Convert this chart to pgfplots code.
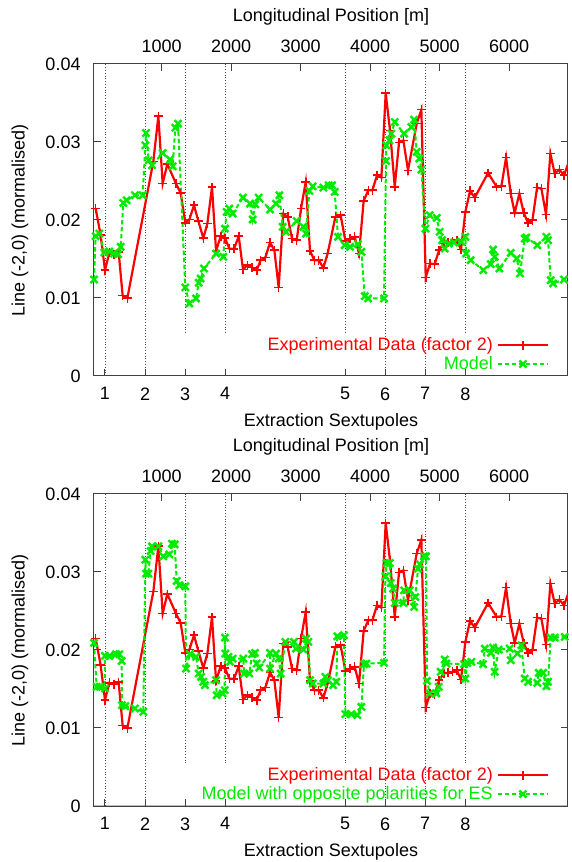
\documentclass[border=0pt]{standalone}
\usepackage{fontspec}
\setmainfont{Liberation Sans}
\usepackage{pgfplots}
\pgfplotsset{compat=1.18}
\usepackage{pgfplotstable}

\definecolor{gpred}{RGB}{255,0,0}
\definecolor{gpgreen}{RGB}{0,235,0}
\newcommand{\fs}{\fontsize{9}{10}\selectfont}

% measured data, x in metres along the ring
\pgfplotstableread{
x y
50 0.02146
122 0.01805
184 0.01357
247 0.01579
314 0.01562
381 0.01587
438 0.01032
506 0.00998
880 0.02752
952 0.03333
1014 0.02467
1081 0.02718
1206 0.02467
1273 0.02347
1340 0.01963
1398 0.02006
1465 0.02189
1527 0.01988
1599 0.01767
1657 0.01954
1724 0.02424
1782 0.01604
1849 0.01792
1911 0.01767
1973 0.01634
2041 0.01630
2108 0.01792
2170 0.01365
2232 0.01421
2299 0.01391
2367 0.01357
2424 0.01485
2491 0.01519
2559 0.01711
2621 0.01613
2683 0.01135
2750 0.02082
2813 0.02040
2875 0.01762
2942 0.01741
3005 0.02146
3072 0.02488
3134 0.01604
3196 0.01485
3259 0.01485
3326 0.01387
3388 0.01570
3499 0.02040
3575 0.02061
3643 0.01732
3710 0.01758
3777 0.01784
3839 0.01570
3906 0.02245
3973 0.02381
4031 0.02381
4098 0.02573
4161 0.02543
4223 0.03627
4285 0.03149
4353 0.02424
4415 0.02996
4477 0.03021
4544 0.02637
4669 0.03235
4736 0.03414
4799 0.01263
4861 0.01442
4928 0.01434
4991 0.01613
5058 0.01698
5120 0.01707
5182 0.01720
5245 0.01741
5307 0.01621
5369 0.02104
5437 0.02373
5504 0.02287
5696 0.02603
5820 0.02424
5887 0.02432
5955 0.02799
6022 0.02338
6079 0.02091
6146 0.02338
6209 0.02091
6271 0.01963
6334 0.01997
6401 0.02415
6463 0.02402
6530 0.02070
6592 0.02851
6655 0.02595
6722 0.02646
6789 0.02573
6852 0.02731
}\expdata

% model
\pgfplotstableread{
x y
26 0.01237
50 0.01792
103 0.01826
175 0.01583
247 0.01596
314 0.01570
372 0.01562
410 0.01656
448 0.02219
496 0.02253
616 0.02317
726 0.02317
765 0.02957
774 0.03115
813 0.02765
861 0.02701
1014 0.02859
1120 0.02774
1158 0.02688
1196 0.03184
1235 0.03235
1340 0.01135
1398 0.00930
1494 0.00994
1532 0.01195
1561 0.01250
1609 0.01378
1782 0.01570
1887 0.01528
1911 0.01890
1935 0.02104
1973 0.02146
2021 0.02082
2170 0.02287
2271 0.02210
2309 0.02006
2347 0.02202
2395 0.02287
2559 0.02134
2645 0.02210
2693 0.02317
2741 0.01912
2789 0.01848
2942 0.01988
3038 0.01912
3077 0.01826
3125 0.02373
3173 0.02432
3326 0.02415
3403 0.02445
3451 0.02445
3489 0.02360
3537 0.01784
3633 0.01677
3710 0.01656
3825 0.01690
3873 0.01592
3921 0.01024
3969 0.00994
4199 0.00994
4228 0.02757
4233 0.02957
4276 0.03021
4305 0.03107
4353 0.03256
4487 0.03107
4592 0.03192
4631 0.03286
4669 0.02872
4707 0.02787
4736 0.02646
4794 0.01890
4856 0.02061
4957 0.02027
5000 0.01848
5034 0.01741
5072 0.01634
5130 0.01698
5206 0.01711
5312 0.01720
5369 0.01784
5379 0.01570
5446 0.01485
5628 0.01357
5734 0.01434
5768 0.01621
5791 0.01528
5859 0.01378
6022 0.01579
6108 0.01506
6156 0.01314
6223 0.01762
6247 0.01775
6405 0.01677
6535 0.01784
6559 0.01741
6597 0.01229
6631 0.01186
6789 0.01237
6895 0.01152
}\modelA

% model with opposite polarities for ES
\pgfplotstableread{
x y
26 0.02091
64 0.01528
112 0.01528
184 0.01506
184 0.01924
247 0.01924
342 0.01946
390 0.01946
424 0.01860
429 0.01293
477 0.01280
616 0.01250
736 0.01207
765 0.03158
774 0.02979
808 0.02979
841 0.03269
861 0.03329
952 0.03329
1024 0.03201
1110 0.03226
1148 0.03363
1187 0.03354
1216 0.02885
1254 0.02829
1340 0.02816
1350 0.01762
1407 0.01946
1494 0.01912
1532 0.01698
1566 0.01656
1599 0.01592
1623 0.01549
1782 0.01613
1791 0.01421
1877 0.01442
1906 0.01485
1911 0.02159
1916 0.01954
1959 0.01912
1983 0.01848
2021 0.01890
2175 0.01890
2184 0.01698
2261 0.01698
2300 0.01946
2343 0.01963
2367 0.01826
2405 0.01775
2559 0.01963
2559 0.01762
2645 0.01954
2683 0.01890
2712 0.01698
2779 0.02104
2904 0.02104
2933 0.02018
3038 0.02006
3077 0.02146
3110 0.02104
3134 0.01613
3173 0.01570
3326 0.01570
3355 0.01656
3393 0.01613
3465 0.01549
3513 0.01592
3527 0.02176
3623 0.02189
3643 0.01178
3729 0.01178
3815 0.01165
3873 0.01271
3911 0.01818
3945 0.01826
4199 0.01835
4218 0.02945
4237 0.03115
4281 0.03115
4295 0.02859
4329 0.02787
4353 0.02603
4477 0.02603
4487 0.02765
4568 0.02765
4631 0.02552
4650 0.02680
4688 0.03043
4717 0.03098
4775 0.03201
4804 0.03201
4818 0.01604
4856 0.01442
4952 0.01442
4986 0.01528
5014 0.01720
5072 0.01878
5096 0.01826
5350 0.01818
5369 0.01634
5398 0.01835
5456 0.01848
5624 0.01818
5648 0.02018
5734 0.01963
5768 0.02031
5791 0.01720
5849 0.02006
6007 0.02018
6022 0.01869
6118 0.01954
6175 0.02061
6223 0.01634
6271 0.01592
6405 0.01579
6425 0.01707
6487 0.01707
6535 0.01536
6559 0.01592
6597 0.02159
6655 0.02159
6799 0.02168
6895 0.02168
}\modelB

\pgfplotsset{
  panelbox/.style={
    width=237pt, height=156pt, scale only axis,
    xmin=26, xmax=6846, ymin=0, ymax=0.04,
    scaled x ticks=false, scaled y ticks=false,
    axis line style={black!75, line width=0.5pt},
    tick style={black!75, line width=0.5pt},
    tick align=inside, major tick length=3.5pt,
    tick label style={font=\fs}, label style={font=\fs},
  },
  mainax/.style={
    panelbox,
    xtick={184,760,1336,1912,3640,4216,4792,5368},
    xticklabels={1,2,3,4,5,6,7,8},
    xtick pos=left,
    xticklabel style={yshift=-2.2pt},
    ytick={0,0.01,0.02,0.03,0.04},
    yticklabels={0,0.01,0.02,0.03,0.04},
    yticklabel style={xshift=-3.2pt},
    ytick pos=both, yticklabel pos=left,
    xlabel={Extraction Sextupoles},
    xlabel style={at={(axis description cs:0.5,-0.147)}, anchor=center},
    ylabel={Line (-2,0) (mormalised)},
    ylabel style={at={(axis description cs:-0.156,0.5)}, anchor=center, rotate=0},
    legend plot pos=right,
    legend cell align=right,
    legend style={draw=none, fill=none, font=\fs, at={(0.965,-0.008)}, anchor=south east,
      row sep=-2.6pt, inner sep=1pt},
    legend image code/.code={\draw[mark repeat=2,mark phase=2]
      plot coordinates {(0pt,0pt) (12.5pt,0pt) (25pt,0pt)};},
  },
  topax/.style={
    panelbox,
    hide y axis,
    xtick={1000,2000,3000,4000,5000,6000},
    xticklabels={1000,2000,3000,4000,5000,6000},
    xtick pos=right, xticklabel pos=right,
    xticklabel style={yshift=2.2pt},
    xlabel={Longitudinal Position [m]},
    xlabel style={at={(axis description cs:0.5,1.151)}, anchor=center},
  },
  sext/.style={black!70, densely dotted, line width=0.4pt, forget plot},
  expst/.style={gpred, line width=1.1pt, mark=+, mark size=2.2pt, mark options={solid, line width=0.8pt}},
  modst/.style={gpgreen, line width=1pt, dash pattern=on 2.2pt off 1.3pt, mark=x, mark size=2.5pt,
    mark options={solid, line width=1.2pt}},
}

\begin{document}
\begin{tikzpicture}
\useasboundingbox (0,0) rectangle (286pt,431pt);

% ---------- upper panel ----------
\begin{axis}[mainax, at={(47pt,243pt)}, anchor=south west]
\addplot[sext] coordinates {(184,0) (184,0.04)};
\addplot[sext] coordinates {(760,0) (760,0.04)};
\addplot[sext] coordinates {(1336,0.0055) (1336,0.04)};
\addplot[sext] coordinates {(1912,0.0055) (1912,0.04)};
\addplot[sext] coordinates {(3640,0.0055) (3640,0.04)};
\addplot[sext] coordinates {(4216,0) (4216,0.04)};
\addplot[sext] coordinates {(4792,0) (4792,0.04)};
\addplot[sext] coordinates {(5368,0.0055) (5368,0.04)};
\addplot[expst] table[x=x, y=y] {\expdata};
\addlegendentry{\textcolor{gpred}{Experimental Data (factor 2)}}
\addplot[modst] table[x=x, y=y] {\modelA};
\addlegendentry{\textcolor{gpgreen}{Model}}
\end{axis}
\begin{axis}[topax, at={(47pt,243pt)}, anchor=south west]
\end{axis}

% ---------- lower panel ----------
\begin{axis}[mainax, at={(47pt,28pt)}, anchor=south west]
\addplot[sext] coordinates {(184,0) (184,0.04)};
\addplot[sext] coordinates {(760,0) (760,0.04)};
\addplot[sext] coordinates {(1336,0.0055) (1336,0.04)};
\addplot[sext] coordinates {(1912,0.0055) (1912,0.04)};
\addplot[sext] coordinates {(3640,0.0055) (3640,0.04)};
\addplot[sext] coordinates {(4216,0) (4216,0.04)};
\addplot[sext] coordinates {(4792,0) (4792,0.04)};
\addplot[sext] coordinates {(5368,0.0055) (5368,0.04)};
\addplot[expst] table[x=x, y=y] {\expdata};
\addlegendentry{\textcolor{gpred}{Experimental Data (factor 2)}}
\addplot[modst] table[x=x, y=y] {\modelB};
\addlegendentry{\textcolor{gpgreen}{Model with opposite polarities for ES}}
\end{axis}
\begin{axis}[topax, at={(47pt,28pt)}, anchor=south west]
\end{axis}
\end{tikzpicture}
\end{document}
